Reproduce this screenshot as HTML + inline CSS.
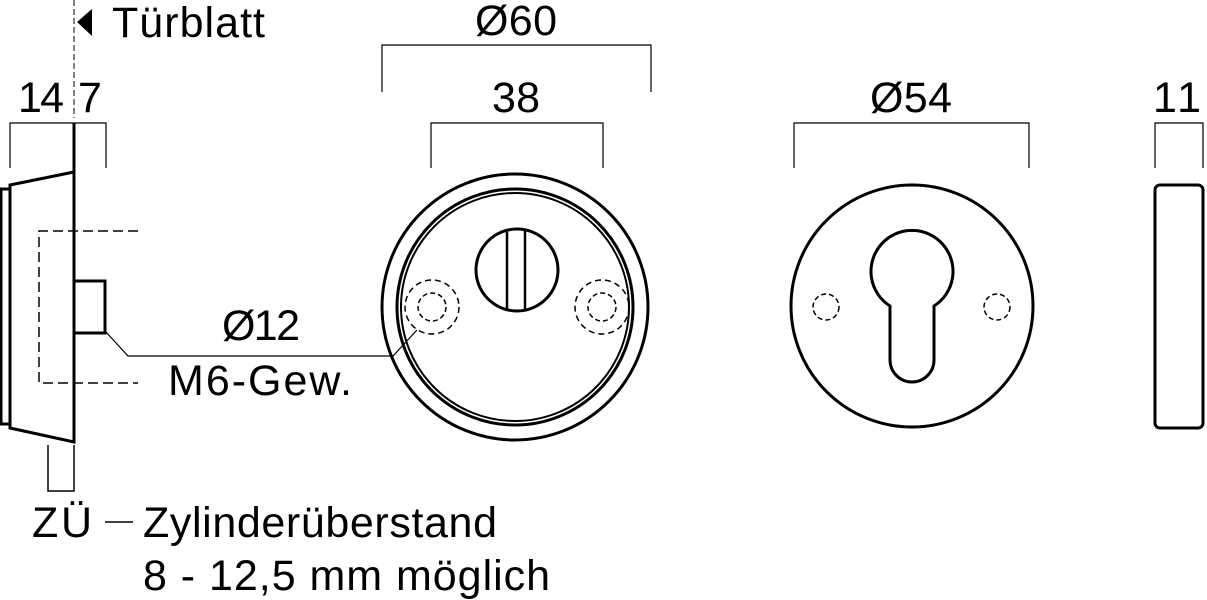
<!DOCTYPE html>
<html><head><meta charset="utf-8"><style>
html,body{margin:0;padding:0;background:#fff;width:1207px;height:600px;overflow:hidden}
svg{display:block}
text{font-family:"Liberation Sans",sans-serif;fill:#000}
</style></head><body>
<svg width="1207" height="600" viewBox="0 0 1207 600" xmlns="http://www.w3.org/2000/svg">
<g fill="none" stroke="#000">
<line x1="74" y1="0" x2="74" y2="118" stroke-width="1" stroke-dasharray="6,3"/>
<polygon points="77,22 92,9 92,36" fill="#000" stroke="none"/>
<polyline points="10,168 10,123 106,123 106,168" stroke-width="1.2"/>
<line x1="74" y1="123" x2="74" y2="172" stroke-width="3"/>
<rect x="1" y="189" width="9" height="235" stroke-width="3"/>
<polygon points="10,185 74,172 74,442 10,428" stroke-width="3"/>
<rect x="74" y="281" width="31" height="52" stroke-width="3"/>
<polyline points="138,231 39,231 39,383 138,383" stroke-width="1.5" stroke-dasharray="10,5"/>
<polyline points="48,445 48,491 74,491 74,445" stroke-width="1.5"/>
<polyline points="106,332 128,356 393,356 417,330" stroke-width="1.2"/>
<polyline points="382,92 382,45 651,45 651,92" stroke-width="1.2"/>
<polyline points="431,168 431,123 603,123 603,168" stroke-width="1.2"/>
<polyline points="794,168 794,123 1029,123 1029,168" stroke-width="1.2"/>
<polyline points="1155,168 1155,123 1203,123 1203,168" stroke-width="1.2"/>
<circle cx="515" cy="307" r="133" stroke-width="3"/>
<circle cx="515" cy="307" r="118" stroke-width="3"/>
<circle cx="515" cy="307" r="114" stroke-width="2"/>
<circle cx="517" cy="270" r="41" stroke-width="3"/>
<line x1="507" y1="231" x2="507" y2="311" stroke-width="2.5"/>
<line x1="525" y1="231" x2="525" y2="311" stroke-width="2.5"/>
<circle cx="432" cy="307" r="27" stroke-width="1.5" stroke-dasharray="6,4"/>
<circle cx="432" cy="307" r="14" stroke-width="1.5" stroke-dasharray="5,3"/>
<circle cx="602" cy="307" r="27" stroke-width="1.5" stroke-dasharray="6,4"/>
<circle cx="602" cy="307" r="14" stroke-width="1.5" stroke-dasharray="5,3"/>
<circle cx="912" cy="306" r="121" stroke-width="3"/>
<path d="M890,306 A41,41 0 1 1 934,306 L934,360 A22,22 0 0 1 890,360 Z" stroke-width="3"/>
<circle cx="826" cy="307" r="13" stroke-width="1.5" stroke-dasharray="5,3"/>
<circle cx="997" cy="307" r="13" stroke-width="1.5" stroke-dasharray="5,3"/>
<rect x="1155" y="185" width="48" height="243" rx="5" stroke-width="3"/>
<line x1="105" y1="522" x2="133" y2="522" stroke-width="1.5"/>
</g>
<g font-size="43">
<text x="112" y="37" textLength="153">Türblatt</text>
<text x="18" y="112" textLength="46">14</text>
<text x="78" y="112">7</text>
<text x="475" y="35" textLength="82">Ø60</text>
<text x="492" y="112" textLength="48">38</text>
<text x="870" y="112" textLength="82">Ø54</text>
<text x="1153" y="112" textLength="48">11</text>
<text x="222" y="340" textLength="78">Ø12</text>
<text x="168" y="395" textLength="184">M6-Gew.</text>
<text x="32" y="537" textLength="60">ZÜ</text>
<text x="143" y="537" textLength="354">Zylinderüberstand</text>
<text x="143" y="590" textLength="407">8 - 12,5 mm möglich</text>
</g>
</svg>
</body></html>
